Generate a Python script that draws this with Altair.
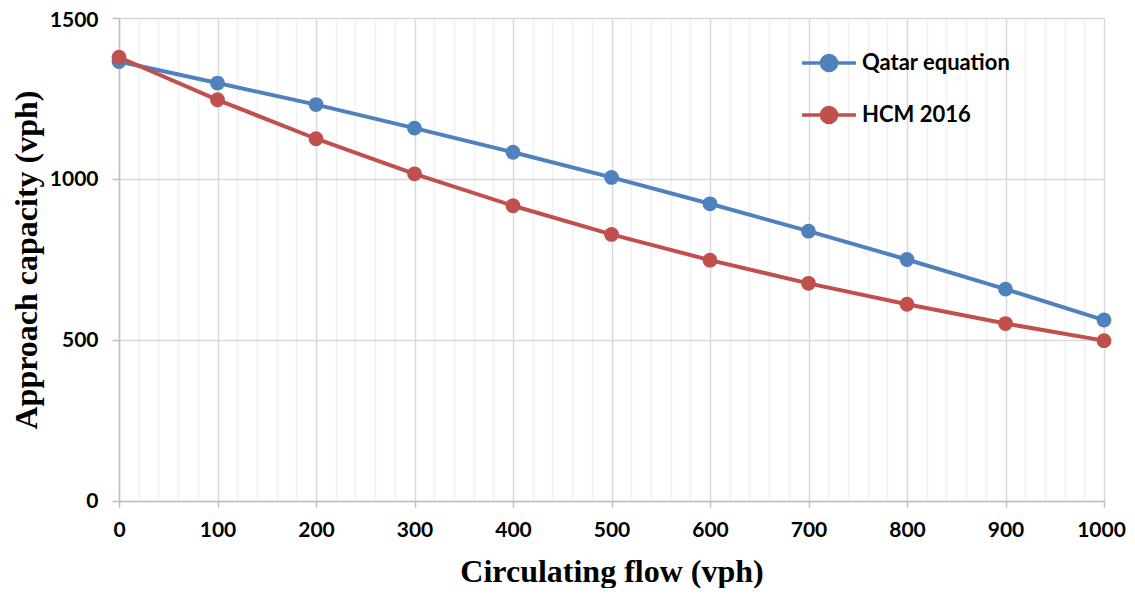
import altair as alt
import pandas as pd

flow = [0, 100, 200, 300, 400, 500, 600, 700, 800, 900, 1000]
qatar = [1365, 1298, 1231, 1158, 1083, 1005, 923, 838, 750, 658, 562]
hcm = [1378, 1246, 1125, 1016, 917, 828, 748, 676, 611, 551, 498]
series_names = ["Qatar equation", "HCM 2016"]
colors = ["#4f81bd", "#c0504d"]

rows = []
for f, q, h in zip(flow, qatar, hcm):
    rows.append({"flow": f, "cap": q, "series": series_names[0]})
    rows.append({"flow": f, "cap": h, "series": series_names[1]})
df = pd.DataFrame(rows)

label_font = "Lato"
title_font = "Liberation Serif"

x_axis = alt.Axis(
    values=list(range(0, 1001, 20)),
    format="d",
    labelExpr="datum.value % 100 === 0 ? datum.label : ''",
    labelFlush=False,
    labelOverlap=False,
    labelOffset={"expr": "datum.value === 1000 ? -3 : 0"},
    gridColor={"expr": "datum.value % 100 === 0 ? '#d9d9d9' : '#f0f0f0'"},
    gridWidth=1.5,
    tickColor={"expr": "datum.value % 100 === 0 ? '#bfbfbf' : 'transparent'"},
    tickSize=6,
    tickWidth=1.5,
    domainColor="#bfbfbf",
    domainWidth=1.5,
    labelFont=label_font,
    labelFontWeight="bold",
    labelFontSize=21,
    labelColor="black",
    labelPadding=12,
    title="Circulating flow (vph)",
    titleFont=title_font,
    titleFontWeight="bold",
    titleFontSize=32,
    titleColor="black",
    titlePadding=16,
)

y_axis = alt.Axis(
    values=[0, 500, 1000, 1500],
    format="d",
    labelFlush=False,
    labelOverlap=False,
    labelOffset={"expr": "datum.value === 1500 ? 2 : 0"},
    gridColor="#d9d9d9",
    gridWidth=1.5,
    tickColor="#bfbfbf",
    tickSize=7,
    tickWidth=1.5,
    domainColor="#bfbfbf",
    domainWidth=1.5,
    labelFont=label_font,
    labelFontWeight="bold",
    labelFontSize=21,
    labelColor="black",
    labelPadding=14,
    title="Approach capacity (vph)",
    titleFont=title_font,
    titleFontWeight="bold",
    titleFontSize=32,
    titleColor="black",
    titlePadding=6,
)

legend = alt.Legend(
    title=None,
    orient="none",
    legendX=681,
    legendY=16,
    symbolType="M-1,0H1M0.28,0A0.28,0.28,0,1,1,-0.28,0A0.28,0.28,0,1,1,0.28,0Z",
    symbolSize=2900,
    symbolStrokeWidth=3.5,
    labelFont=label_font,
    labelFontWeight="bold",
    labelFontSize=22,
    labelColor="black",
    labelOffset=4,
    rowPadding=8,
    labelLimit=300,
)

chart = alt.Chart(df).mark_line(
    strokeWidth=4,
    point=alt.OverlayMarkDef(filled=True, size=220, opacity=1),
).encode(
    x=alt.X("flow:Q", scale=alt.Scale(domain=[0, 1000], nice=False), axis=x_axis),
    y=alt.Y("cap:Q", scale=alt.Scale(domain=[0, 1500], nice=False), axis=y_axis),
    color=alt.Color("series:N", scale=alt.Scale(domain=series_names, range=colors), legend=legend),
    order=alt.Order("flow:Q"),
).properties(
    width=985,
    height=483,
    autosize=alt.AutoSizeParams(type="none"),
    padding={"left": 111, "top": 10, "right": 23, "bottom": 87},
).configure_view(stroke=None).configure(background="white")

chart.save("out.html", embed_options={"renderer": "svg", "actions": False})
